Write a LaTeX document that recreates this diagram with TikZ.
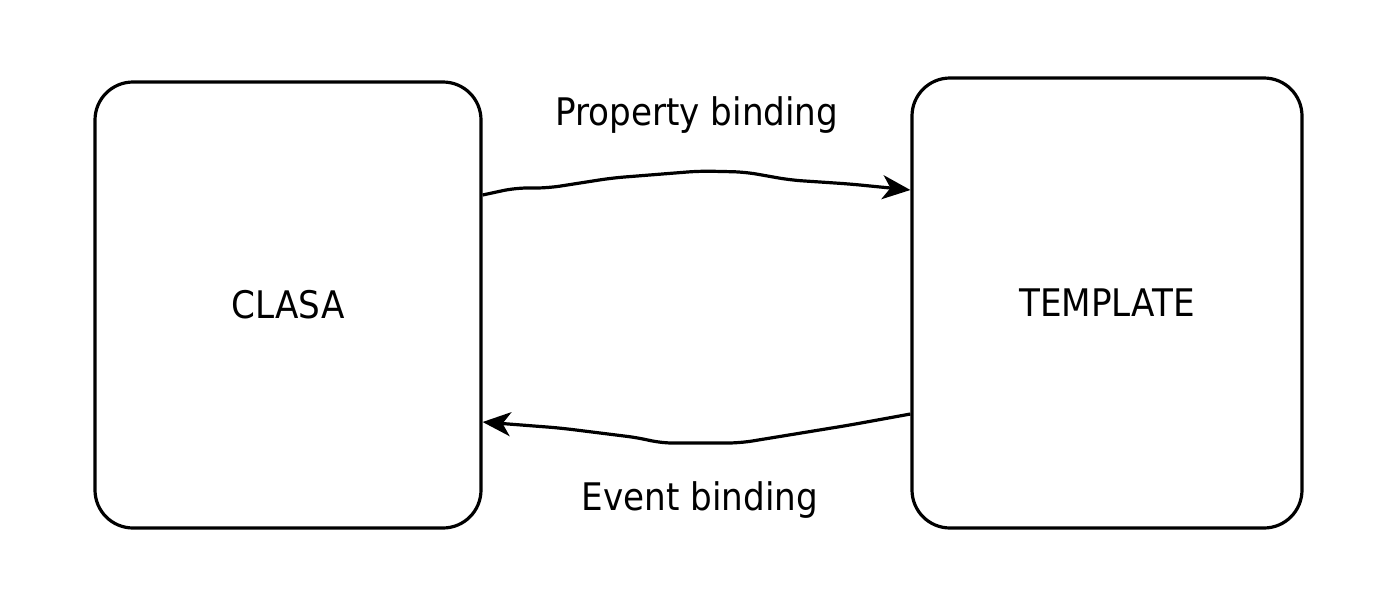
\documentclass[tikz,border=0pt]{standalone}
\usepackage{fontspec}
\setmainfont{DejaVu Sans Condensed}
\usetikzlibrary{arrows.meta,decorations.pathmorphing}
\begin{document}
\begin{tikzpicture}[x=1pt,y=-1pt,
  boxnode/.style={draw=black, line width=3.2pt, rounded corners=38pt, inner sep=0pt, font=\fontsize{38}{42}\selectfont},
  conn/.style={draw=black, line width=3.2pt, rounded corners=12pt, -{Stealth[length=28pt,width=24pt,inset=8pt]}},
  lbl/.style={font=\fontsize{38}{42}\selectfont, inner sep=0pt}]
\useasboundingbox (0,0) rectangle (1382,606);
\node[boxnode, minimum width=386pt, minimum height=446pt] (clasa) at (288,305) {CLASA};
\node[boxnode, minimum width=390pt, minimum height=450pt] (tmpl) at (1107,303) {TEMPLATE};
\coordinate (a1) at ([yshift=110pt]clasa.east);
\coordinate (b1) at ([yshift=113pt]tmpl.west);
\coordinate (a2) at ([yshift=-111pt]tmpl.west);
\coordinate (b2) at ([yshift=-117pt]clasa.east);
\draw[conn] (a1) -- (515,188) -- (548,188) -- (612,178) -- (700,171) -- (745,172) -- (790,180) -- (850,184) -- (b1);
\draw[conn] (a2) -- (850,425) -- (740,443) -- (660,443) -- (640,438) -- (560,428) -- (b2);
\node[lbl] (pb) at (697,115) {Property binding};
\node[lbl] (eb) at (700,500) {Event binding};
\end{tikzpicture}
\end{document}
